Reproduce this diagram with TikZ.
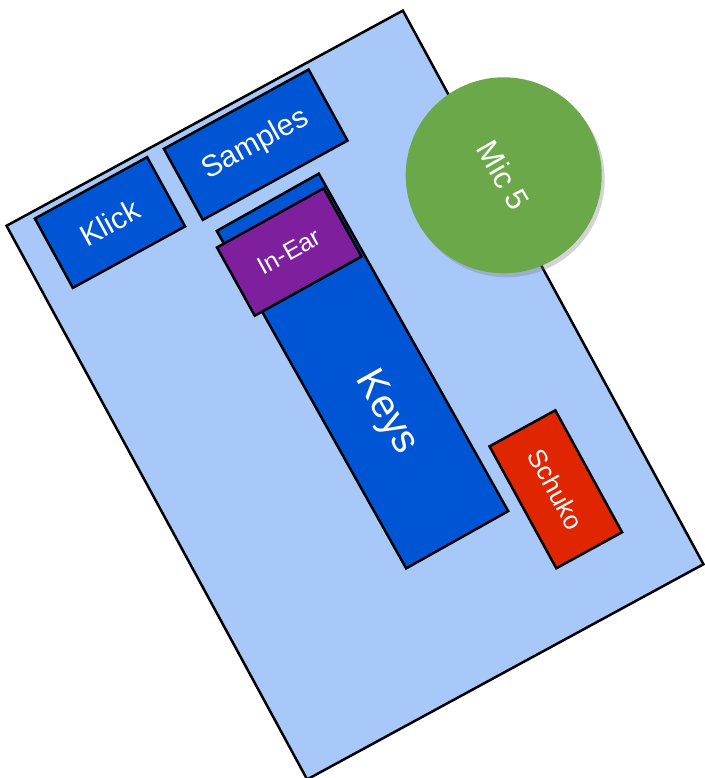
\documentclass[tikz,border=0pt]{standalone}
\usepackage{fontspec}
\setmainfont{Liberation Sans}
\usetikzlibrary{shadows}
\definecolor{stagebg}{HTML}{A8C8FA}
\definecolor{boxblue}{HTML}{0055D4}
\definecolor{boxpurple}{HTML}{7E1F9D}
\definecolor{boxred}{HTML}{E02600}
\definecolor{micgreen}{HTML}{6BA84A}
\tikzset{
  stage/.style={draw=black, line width=2.5pt, fill=stagebg, rectangle, inner sep=0pt},
  gear/.style={draw=black, line width=2.5pt, rectangle, inner sep=0pt, text=white, font=\fontsize{30}{30}\selectfont},
  mic/.style={circle, fill=micgreen, inner sep=0pt, text=white, minimum size=196pt,
     drop shadow={opacity=0.35, shadow xshift=3pt, shadow yshift=-4pt}, font=\fontsize{31}{31}\selectfont}
}
\begin{document}
\begin{tikzpicture}[x=1pt,y=-1pt]
\useasboundingbox (0,0) rectangle (704,778);
\node[stage, minimum width=451pt, minimum height=630pt, rotate=28.5] (stage) at (355,395) {};
\node[gear, fill=boxblue, minimum width=128pt, minimum height=79pt, rotate=28.7] (klick) at (110,222.5) {Klick};
\node[gear, fill=boxblue, minimum width=165pt, minimum height=81pt, rotate=28.7] (samples) at (255.7,144.7) {Samples};
\node[gear, fill=boxblue, minimum width=387pt, minimum height=117pt, rotate=-60.7, font=\fontsize{40}{40}\selectfont] (keys) at (362.5,371) {\hspace*{96pt}\raisebox{6pt}{Keys}};
\node[gear, fill=boxpurple, minimum width=122pt, minimum height=78pt, rotate=29, font=\fontsize{25}{25}\selectfont] (inear) at (289.2,252) {In-Ear};
\node[gear, fill=boxred, minimum width=139pt, minimum height=75pt, rotate=-61.3, font=\fontsize{26}{26}\selectfont] (schuko) at (555.8,489.3) {Schuko};
\node[mic, rotate=-60] (mic) at (503.7,175.3) {Mic 5};
\end{tikzpicture}
\end{document}
